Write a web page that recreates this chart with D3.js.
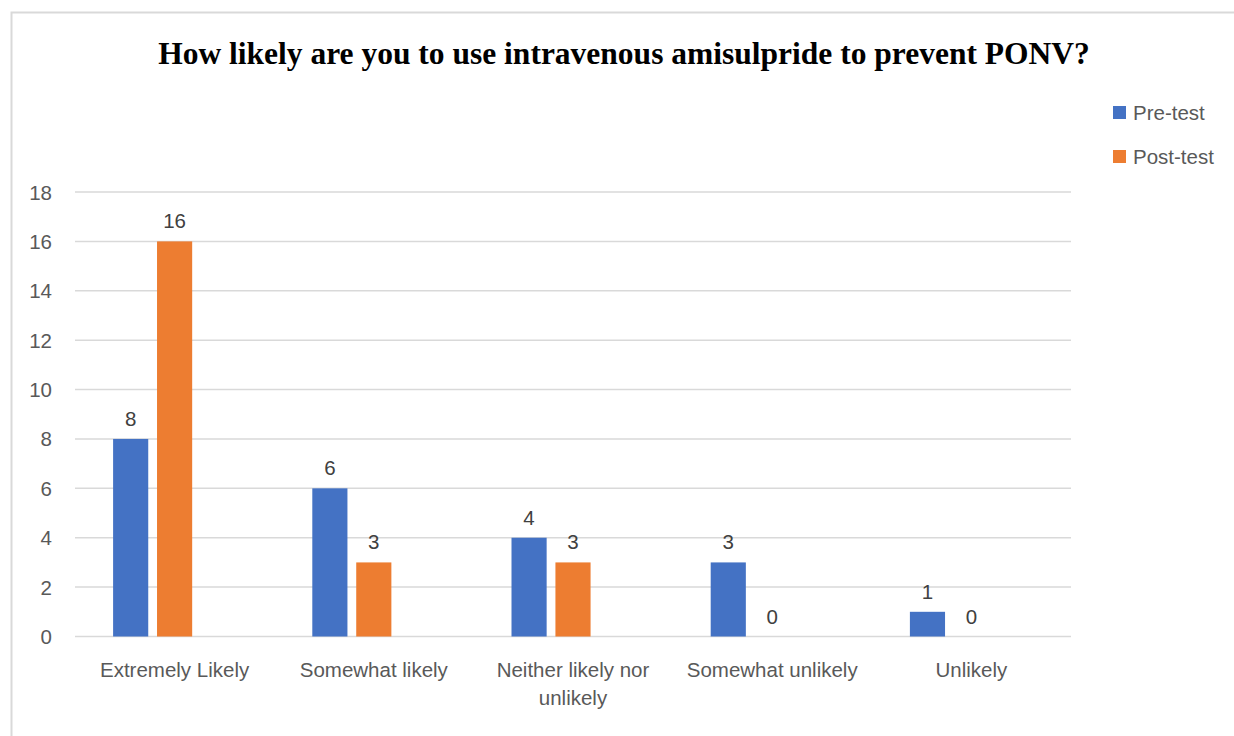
<!DOCTYPE html>
<html>
<head>
<meta charset="utf-8">
<script src="https://cdn.jsdelivr.net/npm/d3@7"></script>
<style>
  body { margin: 0; background: #fff; }
  svg { display: block; }
</style>
</head>
<body>
<svg id="chart" width="1234" height="736"></svg>
<script>
// chart data
var categories = ["Extremely Likely", "Somewhat likely", "Neither likely nor unlikely", "Somewhat unlikely", "Unlikely"];
var series = ["Pre-test", "Post-test"];
var preTest = [8, 6, 4, 3, 1];
var postTest = [16, 3, 3, 0, 0];
var yTicks = [0, 2, 4, 6, 8, 10, 12, 14, 16, 18];
var colors = ["#4472C4", "#ED7D31"];

var svg = d3.select("#chart");
var labelFont = "'Liberation Sans', Arial, sans-serif";
var fs = 20.5;

// frame
svg.append("path")
  .attr("d", "M11.5,736 V12.5 H1234")
  .attr("fill", "none")
  .attr("stroke", "#d9d9d9")
  .attr("stroke-width", 2);

svg.append("text")
  .attr("x", 624)
  .attr("y", 64)
  .attr("text-anchor", "middle")
  .attr("font-family", "'Liberation Serif', 'Times New Roman', serif")
  .attr("font-weight", "bold")
  .attr("font-size", 31.5)
  .attr("fill", "#000")
  .text("How likely are you to use intravenous amisulpride to prevent PONV?");

var x = d3.scaleBand().domain(categories).range([75, 1071]);
// third slot stays empty, like the source chart
var xs = d3.scaleBand().domain([0, 1, 2]).range([0, 123]).paddingInner(0.2);
var y = d3.scaleLinear().domain([0, 18]).range([636.5, 192]);

var g = svg.append("g");

g.selectAll("line.grid")
  .data(yTicks)
  .join("line")
  .attr("class", "grid")
  .attr("x1", 75).attr("x2", 1071)
  .attr("y1", function (d) { return y(d); })
  .attr("y2", function (d) { return y(d); })
  .attr("stroke", "#d9d9d9")
  .attr("stroke-width", 1.5);

g.selectAll("text.ytick")
  .data(yTicks)
  .join("text")
  .attr("class", "ytick")
  .attr("x", 52)
  .attr("y", function (d) { return y(d) + 7.5; })
  .attr("text-anchor", "end")
  .attr("font-family", labelFont)
  .attr("font-size", fs)
  .attr("fill", "#595959")
  .text(function (d) { return d; });

var rows = [];
categories.forEach(function (c, i) {
  rows.push({ cat: c, s: 0, v: preTest[i] });
  rows.push({ cat: c, s: 1, v: postTest[i] });
});

function barX(d) {
  return x(d.cat) + (x.bandwidth() - xs.range()[1]) / 2 + xs(d.s);
}

g.selectAll("rect.bar")
  .data(rows)
  .join("rect")
  .attr("class", "bar")
  .attr("x", barX)
  .attr("width", xs.bandwidth())
  .attr("y", function (d) { return y(d.v); })
  .attr("height", function (d) { return y(0) - y(d.v); })
  .attr("fill", function (d) { return colors[d.s]; });

g.selectAll("text.val")
  .data(rows)
  .join("text")
  .attr("class", "val")
  .attr("x", function (d) { return barX(d) + xs.bandwidth() / 2; })
  .attr("y", function (d) { return y(d.v) - 13; })
  .attr("text-anchor", "middle")
  .attr("font-family", labelFont)
  .attr("font-size", fs)
  .attr("fill", "#404040")
  .text(function (d) { return d.v; });

// category labels, wrapped like the source
var catLines = {
  "Neither likely nor unlikely": ["Neither likely nor", "unlikely"]
};
g.selectAll("text.cat")
  .data(categories)
  .join("text")
  .attr("class", "cat")
  .attr("text-anchor", "middle")
  .attr("font-family", labelFont)
  .attr("font-size", fs)
  .attr("fill", "#595959")
  .each(function (c) {
    var lines = catLines[c] || [c];
    var t = d3.select(this);
    lines.forEach(function (l, i) {
      t.append("tspan")
        .attr("x", x(c) + x.bandwidth() / 2)
        .attr("y", 677 + i * 28)
        .text(l);
    });
  });

// legend
var leg = svg.append("g");
series.forEach(function (s, i) {
  leg.append("rect")
    .attr("x", 1113).attr("y", 106 + i * 44)
    .attr("width", 13).attr("height", 13)
    .attr("fill", colors[i]);
  leg.append("text")
    .attr("x", 1133).attr("y", 120 + i * 44)
    .attr("font-family", labelFont)
    .attr("font-size", fs)
    .attr("fill", "#595959")
    .text(s);
});
</script>
</body>
</html>
